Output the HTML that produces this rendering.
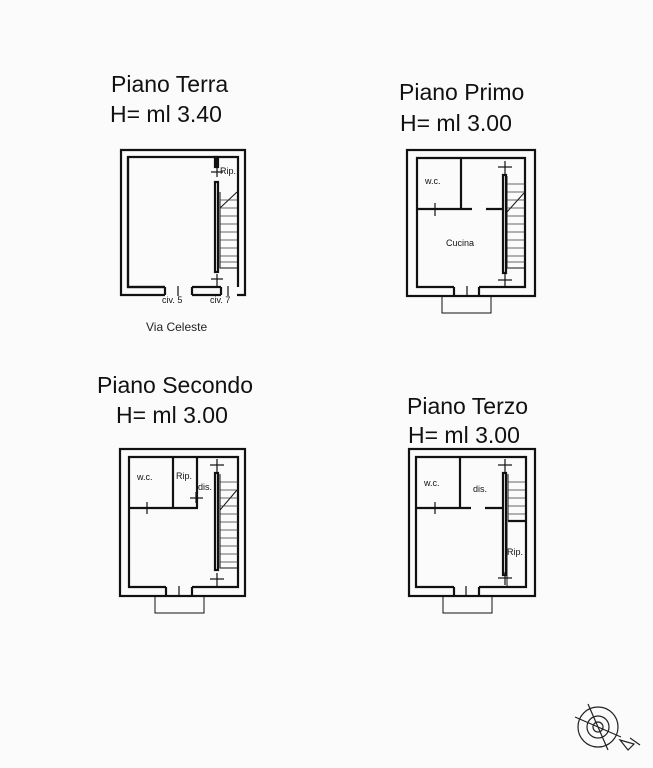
<!DOCTYPE html>
<html><head><style>
html,body{margin:0;padding:0;background:#fbfbfb;}
svg{display:block;font-family:"Liberation Sans",Arial,sans-serif;}
</style></head><body>
<svg width="653" height="768" viewBox="0 0 653 768" xmlns="http://www.w3.org/2000/svg">
<rect width="653" height="768" fill="#fbfbfb"/>
<g fill="#111" font-size="23">
<text x="111" y="92">Piano Terra</text>
<text x="110" y="122">H= ml 3.40</text>
<text x="399" y="100">Piano Primo</text>
<text x="400" y="131">H= ml 3.00</text>
<text x="97" y="393">Piano Secondo</text>
<text x="116" y="423">H= ml 3.00</text>
<text x="407" y="414">Piano Terzo</text>
<text x="408" y="443">H= ml 3.00</text>
</g>
<g stroke="#111" fill="none" stroke-width="2.2">
<!-- Plan 1 -->
<path d="M165 295 H121 V150 H245 V295 H237 M192 295 H221"/>
<path d="M165 287 H128 V157 H238 V287 M192 287 H221"/>
<line x1="165" y1="295" x2="165" y2="287"/><line x1="192" y1="295" x2="192" y2="287"/><line x1="221" y1="295" x2="221" y2="287"/>
<rect x="215" y="157" width="3" height="10" fill="#111"/>
<rect x="215" y="182" width="3" height="90" fill="none"/>
<path d="M165 287 H128 V157" />
<g stroke-width="1.2">
<line x1="211" y1="172" x2="223" y2="172"/><line x1="217" y1="167" x2="217" y2="177"/>
<line x1="211" y1="279" x2="223" y2="279"/><line x1="217" y1="274" x2="217" y2="286"/>
<line x1="178" y1="286" x2="178" y2="296"/><line x1="228" y1="286" x2="228" y2="296"/>
</g>
<path d="M220 192 V268 H237 M220 208 L237 192" stroke-width="1"/>
<!-- Plan 2 -->
<rect x="407" y="150" width="128" height="146"/>
<path d="M454 287 H417 V158 H525 V287 H479"/>
<path d="M454 287 V296 M479 287 V296"/>
<path d="M442 296 V313 H491 V296" stroke-width="1"/>
<line x1="467" y1="286" x2="467" y2="297" stroke-width="1.2"/>
<path d="M461 158 V209 M417 209 H472 M486 209 H502"/>
<line x1="435" y1="203" x2="435" y2="216" stroke-width="1.2"/>
<rect x="503" y="175" width="3" height="98"/>
<g stroke-width="1.2">
<line x1="498" y1="167" x2="512" y2="167"/><line x1="505" y1="161" x2="505" y2="174"/>
<line x1="498" y1="280" x2="512" y2="280"/><line x1="505" y1="274" x2="505" y2="287"/>
</g>
<path d="M507 176 V268 H525 M507 212 L524 193" stroke-width="1"/>
<!-- Plan 3 -->
<rect x="120" y="449" width="125" height="147"/>
<path d="M166 587 H129 V457 H238 V587 H192"/>
<path d="M166 587 V596 M192 587 V596"/>
<path d="M155 596 V613 H204 V596" stroke-width="1"/>
<line x1="179" y1="586" x2="179" y2="597" stroke-width="1.2"/>
<path d="M173 457 V508 M197 457 V508 M129 508 H198"/>
<g stroke-width="1.2">
<line x1="147" y1="502" x2="147" y2="514"/>
<line x1="190" y1="498" x2="203" y2="498"/><line x1="196" y1="492" x2="196" y2="503"/>
</g>
<rect x="215" y="473" width="3" height="97"/>
<g stroke-width="1.2">
<line x1="210" y1="465" x2="224" y2="465"/><line x1="217" y1="459" x2="217" y2="472"/>
<line x1="210" y1="579" x2="224" y2="579"/><line x1="217" y1="573" x2="217" y2="587"/>
</g>
<path d="M220 474 V568 H238 M220 510 L237 490" stroke-width="1"/>
<!-- Plan 4 -->
<rect x="409" y="449" width="126" height="147"/>
<path d="M454 587 H416 V457 H526 V587 H479"/>
<path d="M454 587 V596 M479 587 V596"/>
<path d="M443 596 V613 H492 V596" stroke-width="1"/>
<line x1="466" y1="586" x2="466" y2="597" stroke-width="1.2"/>
<path d="M460 457 V508 M416 508 H471 M485 508 H502 M508 521 H526"/>
<line x1="435" y1="502" x2="435" y2="514" stroke-width="1.2"/>
<rect x="503" y="473" width="3" height="102"/>
<path d="M507 521 V587" stroke-width="1"/>
<g stroke-width="1.2">
<line x1="498" y1="465" x2="512" y2="465"/><line x1="505" y1="459" x2="505" y2="472"/>
<line x1="498" y1="578" x2="512" y2="578"/><line x1="505" y1="572" x2="505" y2="585"/>
</g>
<path d="M508 474 V521" stroke-width="1"/>
</g>
<g stroke="#333" stroke-width="0.7">
<line x1="220" y1="200" x2="237" y2="200"/><line x1="220" y1="208" x2="237" y2="208"/><line x1="220" y1="216" x2="237" y2="216"/><line x1="220" y1="224" x2="237" y2="224"/><line x1="220" y1="232" x2="237" y2="232"/><line x1="220" y1="240" x2="237" y2="240"/><line x1="220" y1="248" x2="237" y2="248"/><line x1="220" y1="256" x2="237" y2="256"/><line x1="220" y1="262" x2="237" y2="262"/>
<line x1="507" y1="184" x2="525" y2="184"/><line x1="507" y1="192" x2="525" y2="192"/><line x1="507" y1="200" x2="525" y2="200"/><line x1="507" y1="208" x2="525" y2="208"/><line x1="507" y1="216" x2="525" y2="216"/><line x1="507" y1="224" x2="525" y2="224"/><line x1="507" y1="232" x2="525" y2="232"/><line x1="507" y1="240" x2="525" y2="240"/><line x1="507" y1="248" x2="525" y2="248"/><line x1="507" y1="256" x2="525" y2="256"/><line x1="507" y1="262" x2="525" y2="262"/>
<line x1="220" y1="482" x2="238" y2="482"/><line x1="220" y1="490" x2="238" y2="490"/><line x1="220" y1="498" x2="238" y2="498"/><line x1="220" y1="506" x2="238" y2="506"/><line x1="220" y1="514" x2="238" y2="514"/><line x1="220" y1="522" x2="238" y2="522"/><line x1="220" y1="530" x2="238" y2="530"/><line x1="220" y1="538" x2="238" y2="538"/><line x1="220" y1="546" x2="238" y2="546"/><line x1="220" y1="554" x2="238" y2="554"/><line x1="220" y1="562" x2="238" y2="562"/>
<line x1="508" y1="482" x2="525" y2="482"/><line x1="508" y1="490" x2="525" y2="490"/><line x1="508" y1="498" x2="525" y2="498"/><line x1="508" y1="506" x2="525" y2="506"/><line x1="508" y1="514" x2="525" y2="514"/>
</g>
<g fill="#111" font-size="9">
<text x="220" y="174">Rip.</text>
<text x="162" y="303">civ. 5</text>
<text x="210" y="303">civ. 7</text>
<text x="425" y="184">w.c.</text>
<text x="446" y="246">Cucina</text>
<text x="137" y="480">w.c.</text>
<text x="176" y="479">Rip.</text>
<text x="198" y="490">dis.</text>
<text x="424" y="486">w.c.</text>
<text x="473" y="492">dis.</text>
<text x="507" y="555">Rip.</text>
</g>
<text x="146" y="331" font-size="12" fill="#222">Via Celeste</text>
<g stroke="#222" fill="none" stroke-width="1.2">
<circle cx="598" cy="727" r="20"/>
<circle cx="598" cy="727" r="11"/>
<circle cx="598" cy="727" r="5"/>
<line x1="575" y1="717" x2="621" y2="737"/><line x1="588" y1="704" x2="608" y2="750"/>
<path d="M620 740 L634 744 L628 750 Z M630 738 L640 745"/>
</g>
</svg>
</body></html>
